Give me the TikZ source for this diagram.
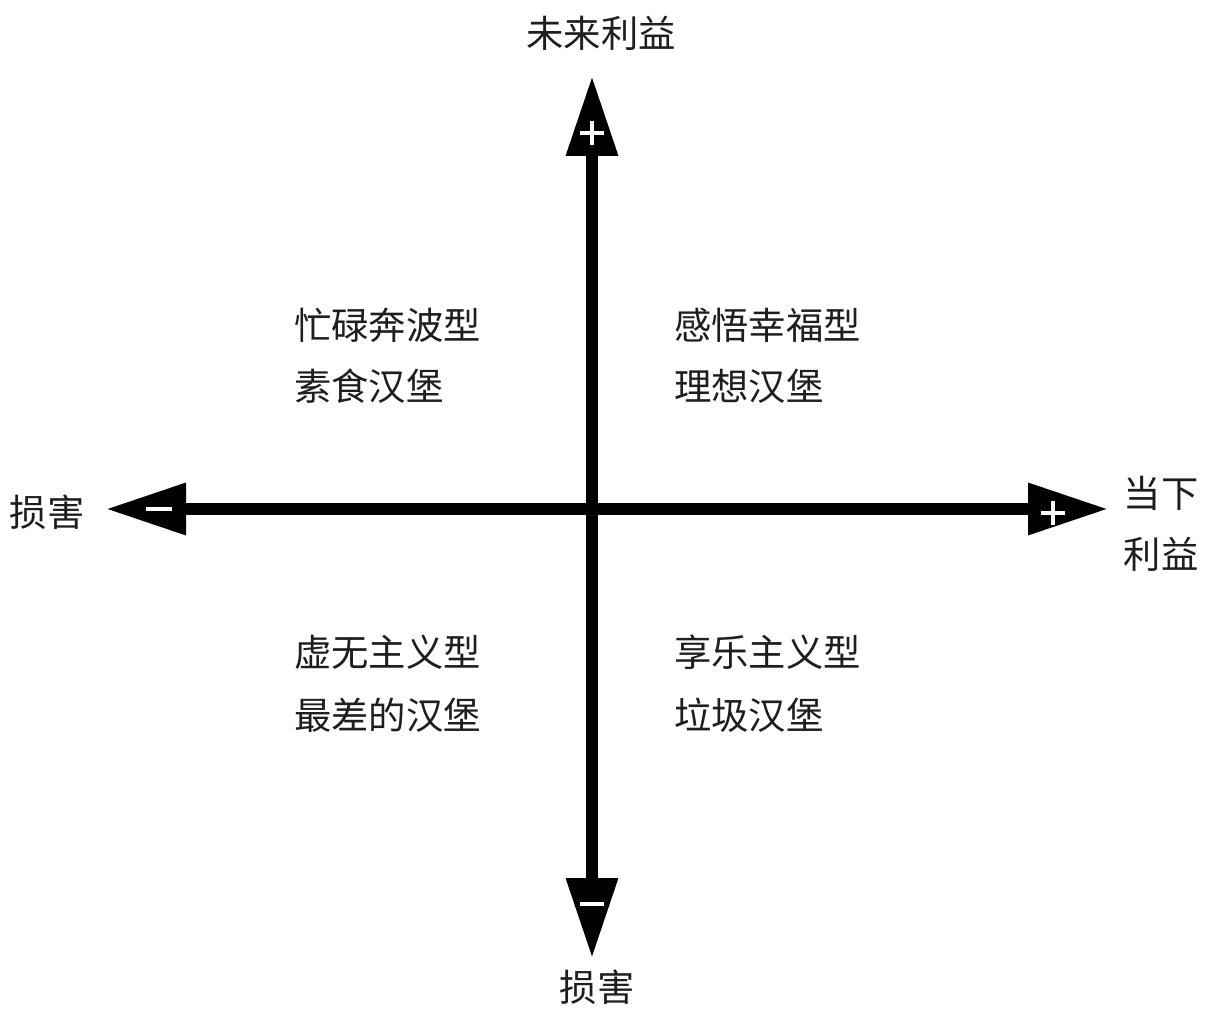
\documentclass[tikz,border=0pt]{standalone}
\usepackage{fontspec}
\newfontfamily\cjk{Noto Sans CJK SC}
\usetikzlibrary{arrows.meta}
\definecolor{ink}{HTML}{1E1E1E}
\begin{document}
\begin{tikzpicture}[x=0.75pt,y=-0.75pt,
  lbl/.style={text=ink,font=\cjk\fontsize{28pt}{31pt}\selectfont,inner sep=0pt},
  qtxt/.style={lbl,anchor=west},
  axisline/.style={line width=9pt,draw=black,
    arrows={Triangle[length=60pt,width=37pt]-Triangle[length=60pt,width=37pt]}},
  sign/.style={draw=white,line width=3.5pt}]
\useasboundingbox[fill=white] (0,0) rectangle (1210,1009);
% axis ends
\coordinate (top) at (592,76);
\coordinate (bot) at (592,958);
\coordinate (lft) at (106,509);
\coordinate (rgt) at (1108,509);
\draw[axisline] (bot) -- (top);
\draw[axisline] (lft) -- (rgt);
% signs
\draw[sign] (580,133) -- (604,133) (592,121) -- (592,145);
\draw[sign] (1041,513) -- (1065,513) (1053,501) -- (1053,525);
\draw[sign] (146,509) -- (172,509);
\draw[sign] (580,904) -- (604,904);
% axis labels
\node[lbl] (ltop) at (601,33) {未来利益};
\node[lbl] (lbot) at (597,987) {损害};
\node[lbl] (llft) at (47,512) {损害};
\node[lbl] (lr1) at (1161,493) {当下};
\node[lbl] (lr2) at (1161,554) {利益};
% quadrants
\node[qtxt] (q1a) at (294,325) {忙碌奔波型};
\node[qtxt] (q1b) at (294,386) {素食汉堡};
\node[qtxt] (q2a) at (674,325) {感悟幸福型};
\node[qtxt] (q2b) at (674,386) {理想汉堡};
\node[qtxt] (q3a) at (294,652) {虚无主义型};
\node[qtxt] (q3b) at (294,715) {最差的汉堡};
\node[qtxt] (q4a) at (674,652) {享乐主义型};
\node[qtxt] (q4b) at (674,715) {垃圾汉堡};
\end{tikzpicture}
\end{document}
